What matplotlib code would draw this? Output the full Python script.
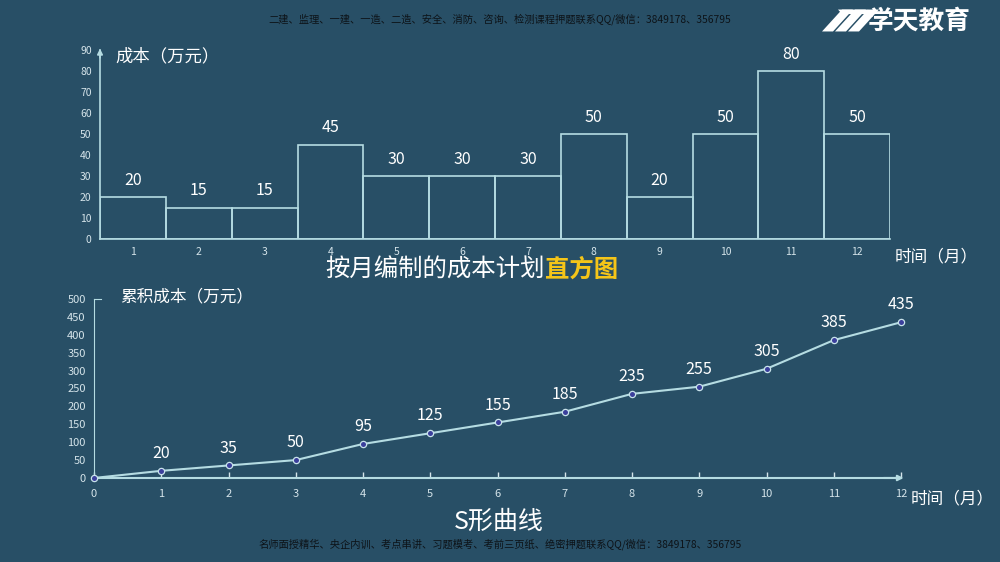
import matplotlib
matplotlib.use("Agg")
from matplotlib import pyplot as plt
from matplotlib.patches import Polygon

plt.rcParams['font.family'] = ['Noto Sans CJK SC', 'DejaVu Sans']

# data
months = [1, 2, 3, 4, 5, 6, 7, 8, 9, 10, 11, 12]
monthly_cost = [20, 15, 15, 45, 30, 30, 30, 50, 20, 50, 80, 50]
cum_months = [0, 1, 2, 3, 4, 5, 6, 7, 8, 9, 10, 11, 12]
cum_cost = [0, 20, 35, 50, 95, 125, 155, 185, 235, 255, 305, 385, 435]

bg = '#284f66'
line_c = '#b5dce2'
tick_c = '#d5e4ea'

fig = plt.figure(figsize=(10, 5.62), dpi=100, facecolor=bg)

# header / footer
fig.text(0.5, 0.965, '二建、监理、一建、一造、二造、安全、消防、咨询、检测课程押题联系QQ/微信：3849178、356795',
         color='#0d1318', fontsize=7.4, ha='center', va='center')
fig.text(0.5, 0.031, '名师面授精华、央企内训、考点串讲、习题模考、考前三页纸、绝密押题联系QQ/微信：3849178、356795',
         color='#0d1318', fontsize=7.4, ha='center', va='center')

# logo
for i in range(3):
    dx = i * 0.013
    fig.patches.append(Polygon([[0.822 + dx, 0.944], [0.833 + dx, 0.944],
                                [0.853 + dx, 0.983], [0.842 + dx, 0.983]],
                               closed=True, transform=fig.transFigure,
                               facecolor='white', edgecolor='none'))
fig.patches.append(Polygon([[0.838, 0.983], [0.868, 0.983], [0.871, 0.975], [0.842, 0.975]],
                           closed=True, transform=fig.transFigure,
                           facecolor='white', edgecolor='none'))
fig.text(0.919, 0.963, '学天教育', color='white', fontsize=18.5, fontweight='bold',
         ha='center', va='center')

# ---- histogram ----
ax1 = fig.add_axes([0.100, 0.5747, 0.790, 0.3363])
ax1.set_facecolor('none')
ax1.bar(months, monthly_cost, width=1.0, facecolor='none', edgecolor=line_c, linewidth=1.2)
for m, v in zip(months, monthly_cost):
    ax1.text(m, v + 4, str(v), color='white', fontsize=11.5, ha='center', va='bottom')
ax1.set_xlim(0.5, 12.5)
ax1.set_ylim(0, 90)
ax1.set_xticks(months)
ax1.set_yticks(range(0, 91, 10))
ax1.tick_params(axis='both', length=0, colors=tick_c, labelsize=7.5)
ax1.tick_params(axis='x', pad=6)
ax1.tick_params(axis='y', pad=6)
for s in ['top', 'right']:
    ax1.spines[s].set_visible(False)
ax1.spines['bottom'].set_color(line_c)
ax1.spines['left'].set_color(line_c)
ax1.spines['bottom'].set_linewidth(1.2)
ax1.spines['left'].set_linewidth(1.2)
ax1.annotate('', xy=(0.5, 92), xytext=(0.5, 85), annotation_clip=False,
             arrowprops=dict(arrowstyle='-|>', color=line_c, lw=1.2, mutation_scale=8))
fig.text(0.115, 0.90, '成本（万元）', color='white', fontsize=12.5, ha='left', va='center')
fig.text(0.895, 0.543, '时间（月）', color='white', fontsize=12, ha='left', va='center')

fig.text(0.545, 0.52, '按月编制的成本计划', color='white', fontsize=17.6, ha='right', va='center')
fig.text(0.545, 0.52, '直方图', color='#f5c518', fontsize=17.6, fontweight='bold',
         ha='left', va='center')

# ---- S curve ----
ax2 = fig.add_axes([0.094, 0.1495, 0.807, 0.3185])
ax2.set_facecolor('none')
ax2.plot(cum_months, cum_cost, color=line_c, linewidth=1.5, marker='o', markersize=4.5,
         markerfacecolor='#3b3f9c', markeredgecolor='#c8e2ea', markeredgewidth=0.9,
         clip_on=False, zorder=3)
for m, v in zip(cum_months[1:], cum_cost[1:]):
    ax2.text(m, v + 25, str(v), color='white', fontsize=11.5, ha='center', va='bottom')
ax2.set_xlim(0, 12)
ax2.set_ylim(0, 500)
ax2.set_xticks(cum_months)
ax2.set_yticks(range(0, 501, 50))
ax2.tick_params(axis='x', direction='in', length=4, colors=tick_c, labelsize=8, pad=8,
                width=1)
ax2.tick_params(axis='y', length=0, colors=tick_c, labelsize=8, pad=6)
for s in ['top', 'right']:
    ax2.spines[s].set_visible(False)
ax2.spines['bottom'].set_color(line_c)
ax2.spines['left'].set_color(line_c)
ax2.spines['bottom'].set_linewidth(1.5)
ax2.spines['left'].set_linewidth(0.8)
ax2.annotate('', xy=(12.08, 0), xytext=(11.7, 0), annotation_clip=False,
             arrowprops=dict(arrowstyle='-|>', color=line_c, lw=1.5, mutation_scale=8))
ax2.plot([0, 0.1], [500, 500], color=line_c, linewidth=0.8, clip_on=False)
fig.text(0.120, 0.472, '累积成本（万元）', color='white', fontsize=12, ha='left', va='center')
fig.text(0.911, 0.112, '时间（月）', color='white', fontsize=12, ha='left', va='center')

fig.text(0.499, 0.071, 'S形曲线', color='white', fontsize=18, ha='center', va='center')

fig.savefig('out.png', dpi=100, facecolor=bg)
